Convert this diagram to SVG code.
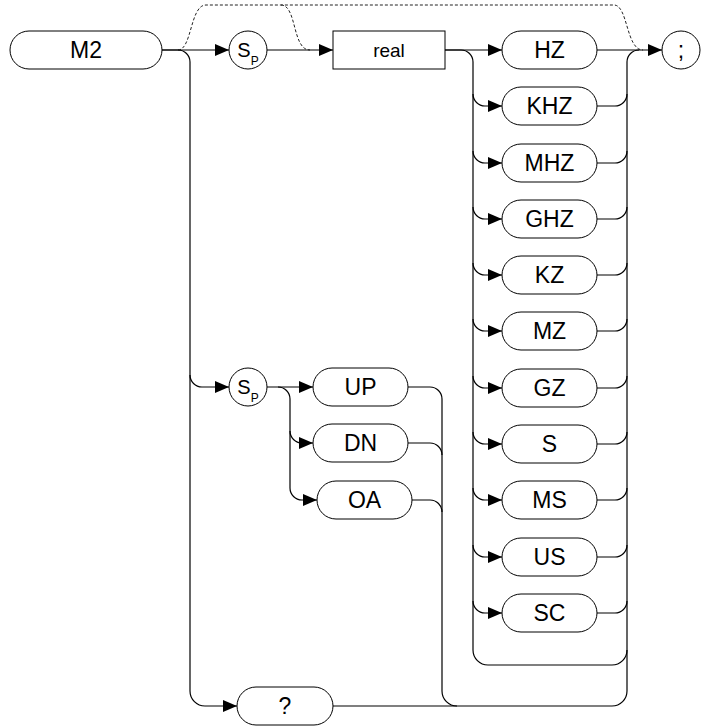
<svg xmlns="http://www.w3.org/2000/svg" width="708" height="726" viewBox="0 0 708 726">
<defs>
<marker id="ah" markerUnits="userSpaceOnUse" markerWidth="14" markerHeight="12" refX="14" refY="6" orient="auto">
<path d="M0,0 L14,6 L0,12 z" fill="#000"/>
</marker>
<style>
.n{fill:#fff;stroke:#000;stroke-width:1}
.t{font-family:"Liberation Sans",Arial,sans-serif;font-size:23px;fill:#000;text-anchor:middle}
.s{font-size:20px}
.r{font-size:19px}
.c{fill:none;stroke:#000;stroke-width:1.2}
.a{marker-end:url(#ah)}
.d{fill:none;stroke:#222;stroke-width:1;stroke-dasharray:3,2}
</style>
</defs>
<rect width="708" height="726" fill="#fff"/>
<g id="connectors">
<path class="d" d="M178,50 C192,50 190,5 206,5 L614,5 C628,5 626,50 643,50"/>
<path class="d" d="M281,5 C297,5 292,50 310,50"/>
<path class="c a" d="M162,50 L229,50"/>
<path class="c a" d="M267,50 L333,50"/>
<path class="c a" d="M445,50 L502,50"/>
<path class="c a" d="M597,50 L662,50"/>
<path class="c a" d="M162,50 L178,50 A12,12 0 0 1 190,62 L190,375 A12,12 0 0 0 202,387 L229,387"/>
<path class="c a" d="M190,375 L190,691 A15,15 0 0 0 205,706 L237,706"/>
<path class="c a" d="M267,387 L313,387"/>
<path class="c a" d="M278,387 A12,12 0 0 1 290,399 L290,431 A12,12 0 0 0 302,443 L313,443"/>
<path class="c a" d="M290,431 L290,488 A12,12 0 0 0 302,500 L317,500"/>
<path class="c" d="M408,387 L430,387 A12,12 0 0 1 442,399 L442,691 A15,15 0 0 0 457,706"/>
<path class="c" d="M408,443 L430,443 A12,12 0 0 1 442,455"/>
<path class="c" d="M412,500 L430,500 A12,12 0 0 1 442,512"/>
<path class="c" d="M333,706 L612,706 A15,15 0 0 0 627,691 L627,62 A12,12 0 0 1 639,50"/>
<path class="c" d="M445,50 L461,50 A12,12 0 0 1 473,62 L473,650 A15,15 0 0 0 488,665 L612,665 A15,15 0 0 0 627,650"/>
<path class="c a" d="M473,94 A12,12 0 0 0 485,106 L502,106"/>
<path class="c a" d="M473,151 A12,12 0 0 0 485,163 L502,163"/>
<path class="c a" d="M473,207 A12,12 0 0 0 485,219 L502,219"/>
<path class="c a" d="M473,263 A12,12 0 0 0 485,275 L502,275"/>
<path class="c a" d="M473,319 A12,12 0 0 0 485,331 L502,331"/>
<path class="c a" d="M473,376 A12,12 0 0 0 485,388 L502,388"/>
<path class="c a" d="M473,432 A12,12 0 0 0 485,444 L502,444"/>
<path class="c a" d="M473,488 A12,12 0 0 0 485,500 L502,500"/>
<path class="c a" d="M473,545 A12,12 0 0 0 485,557 L502,557"/>
<path class="c a" d="M473,601 A12,12 0 0 0 485,613 L502,613"/>
<path class="c" d="M597,106 L615,106 A12,12 0 0 0 627,94"/>
<path class="c" d="M597,163 L615,163 A12,12 0 0 0 627,151"/>
<path class="c" d="M597,219 L615,219 A12,12 0 0 0 627,207"/>
<path class="c" d="M597,275 L615,275 A12,12 0 0 0 627,263"/>
<path class="c" d="M597,331 L615,331 A12,12 0 0 0 627,319"/>
<path class="c" d="M597,388 L615,388 A12,12 0 0 0 627,376"/>
<path class="c" d="M597,444 L615,444 A12,12 0 0 0 627,432"/>
<path class="c" d="M597,500 L615,500 A12,12 0 0 0 627,488"/>
<path class="c" d="M597,557 L615,557 A12,12 0 0 0 627,545"/>
<path class="c" d="M597,613 L615,613 A12,12 0 0 0 627,601"/>
</g>
<g id="M2"><rect class="n" x="10" y="31" width="152" height="38" rx="19"/><text class="t" x="86" y="58">M2</text></g>
<g id="SP1"><circle class="n" cx="248" cy="50" r="19"/><text class="t s" x="248" y="57">S<tspan font-size="12" dy="8">P</tspan></text></g>
<g id="real"><rect class="n" x="333" y="31" width="112" height="38"/><text class="t r" x="389" y="57">real</text></g>
<g id="HZ"><rect class="n" x="502" y="31" width="95" height="38" rx="19"/><text class="t" x="549.5" y="58">HZ</text></g>
<g id="KHZ"><rect class="n" x="502" y="87" width="95" height="38" rx="19"/><text class="t" x="549.5" y="114">KHZ</text></g>
<g id="MHZ"><rect class="n" x="502" y="144" width="95" height="38" rx="19"/><text class="t" x="549.5" y="171">MHZ</text></g>
<g id="GHZ"><rect class="n" x="502" y="200" width="95" height="38" rx="19"/><text class="t" x="549.5" y="227">GHZ</text></g>
<g id="KZ"><rect class="n" x="502" y="256" width="95" height="38" rx="19"/><text class="t" x="549.5" y="283">KZ</text></g>
<g id="MZ"><rect class="n" x="502" y="312" width="95" height="38" rx="19"/><text class="t" x="549.5" y="339">MZ</text></g>
<g id="GZ"><rect class="n" x="502" y="369" width="95" height="38" rx="19"/><text class="t" x="549.5" y="396">GZ</text></g>
<g id="S"><rect class="n" x="502" y="425" width="95" height="38" rx="19"/><text class="t" x="549.5" y="452">S</text></g>
<g id="MS"><rect class="n" x="502" y="481" width="95" height="38" rx="19"/><text class="t" x="549.5" y="508">MS</text></g>
<g id="US"><rect class="n" x="502" y="538" width="95" height="38" rx="19"/><text class="t" x="549.5" y="565">US</text></g>
<g id="SC"><rect class="n" x="502" y="594" width="95" height="38" rx="19"/><text class="t" x="549.5" y="621">SC</text></g>
<g id="semicolon"><circle class="n" cx="681" cy="50" r="19"/><text class="t" x="681" y="58">;</text></g>
<g id="SP2"><circle class="n" cx="248" cy="387" r="19"/><text class="t s" x="248" y="394">S<tspan font-size="12" dy="8">P</tspan></text></g>
<g id="UP"><rect class="n" x="313" y="368" width="95" height="38" rx="19"/><text class="t" x="360.5" y="395">UP</text></g>
<g id="DN"><rect class="n" x="313" y="424" width="95" height="38" rx="19"/><text class="t" x="360.5" y="451">DN</text></g>
<g id="OA"><rect class="n" x="317" y="481" width="95" height="38" rx="19"/><text class="t" x="364.5" y="508">OA</text></g>
<g id="query"><rect class="n" x="237" y="687" width="96" height="38" rx="19"/><text class="t" x="285" y="714">?</text></g>
</svg>
